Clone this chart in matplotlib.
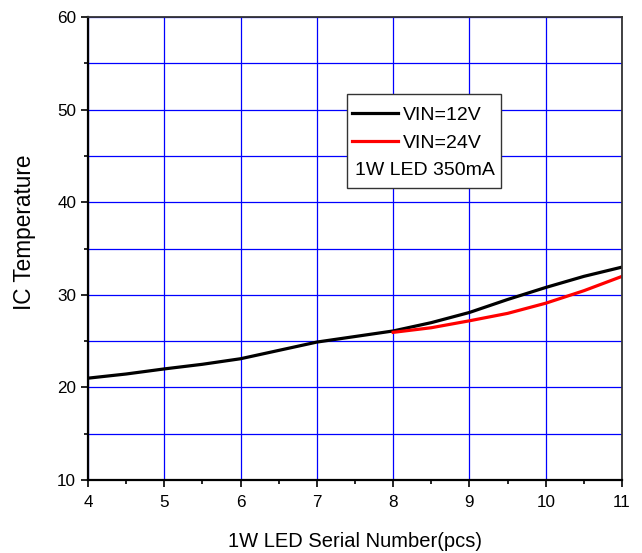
import matplotlib
matplotlib.use("Agg")
import matplotlib.pyplot as plt
from matplotlib.patches import Rectangle
from matplotlib.ticker import MultipleLocator

plt.rcParams['font.family'] = ['Liberation Sans', 'DejaVu Sans']

# data
x_12v = [4, 4.5, 5, 5.5, 6, 6.5, 7, 7.5, 8, 8.5, 9, 9.5, 10, 10.5, 11]
t_12v = [21.0, 21.45, 22.0, 22.5, 23.1, 24.0, 24.9, 25.5, 26.1, 27.0, 28.1, 29.5, 30.8, 32.0, 33.0]
x_24v = [8, 8.5, 9, 9.5, 10, 10.5, 11]
t_24v = [25.95, 26.45, 27.2, 28.0, 29.1, 30.45, 32.0]

fig = plt.figure(figsize=(6.42, 5.53), dpi=100)
ax = fig.add_axes([0.137, 0.132, 0.832, 0.837])

ax.set_xlim(4, 11)
ax.set_ylim(10, 60)
ax.xaxis.set_major_locator(MultipleLocator(1))
ax.xaxis.set_minor_locator(MultipleLocator(0.5))
ax.yaxis.set_major_locator(MultipleLocator(10))
ax.yaxis.set_minor_locator(MultipleLocator(5))

ax.grid(True, which='major', axis='x', color='#0000ff', lw=0.9)
ax.grid(True, which='both', axis='y', color='#0000ff', lw=0.9)
ax.set_axisbelow(True)

l1, = ax.plot(x_12v, t_12v, color='black', lw=2.3, label='VIN=12V')
l2, = ax.plot(x_24v, t_24v, color='#ff0000', lw=2.3, label='VIN=24V')

ax.tick_params(which='major', direction='out', length=5, width=1.2, labelsize=12.3, color='black')
ax.tick_params(which='minor', direction='out', length=3, width=1.2, color='black')
ax.tick_params(axis='x', pad=6)
ax.tick_params(axis='y', pad=3.5)

for s in ['left', 'bottom']:
    ax.spines[s].set_linewidth(1.6)
for s in ['top', 'right']:
    ax.spines[s].set_linewidth(1.3)
    ax.spines[s].set_color('#333333')

ax.set_xlabel('1W LED Serial Number(pcs)', fontsize=14.5)
ax.xaxis.set_label_coords(0.5, -0.112)
ax.set_ylabel('IC Temperature', fontsize=16.3)
ax.yaxis.set_label_coords(-0.097, 0.536)

# legend box
ax.add_patch(Rectangle((0.485, 0.631), 0.288, 0.203, transform=ax.transAxes,
                       facecolor='white', edgecolor='#333333', lw=1.0, zorder=5))
leg = ax.legend(handles=[l1, l2], loc='upper left', bbox_to_anchor=(0.49, 0.811),
                frameon=False, fontsize=14, handlelength=2.37, handletextpad=0.26,
                borderpad=0.1, borderaxespad=0, labelspacing=0.5)
leg.set_zorder(6)
ax.text(0.5, 0.668, '1W LED 350mA', transform=ax.transAxes, fontsize=14,
        va='center', ha='left', zorder=6)

fig.savefig('out.png', dpi=100)
